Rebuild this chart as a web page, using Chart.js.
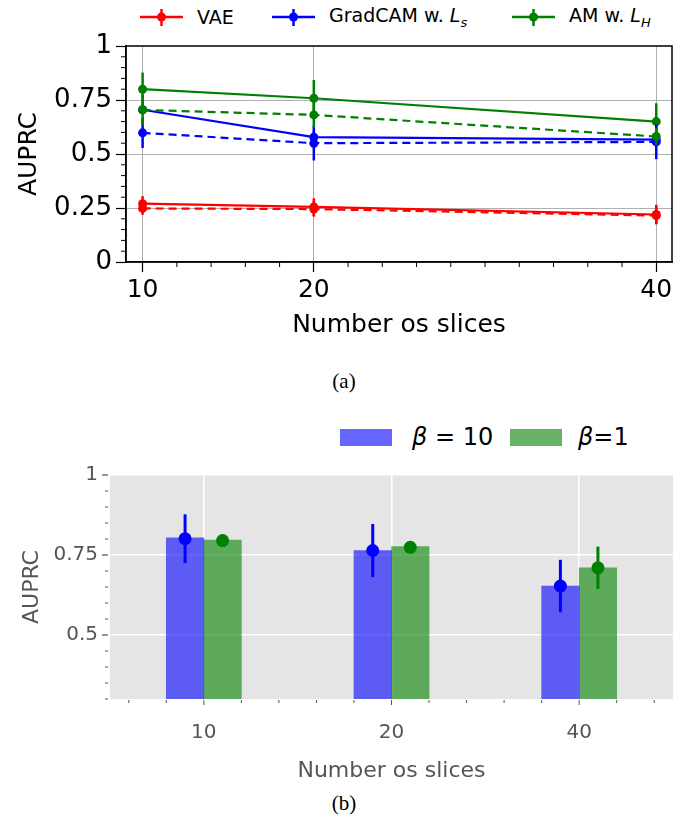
<!DOCTYPE html>
<html>
<head>
<meta charset="utf-8">
<script src="https://cdn.jsdelivr.net/npm/chart.js@4.4.0/dist/chart.umd.min.js"></script>
<style>
  body { margin: 0; width: 688px; height: 827px; background: #fff; position: relative; overflow: hidden; font-family: 'DejaVu Sans', sans-serif; }
  canvas { position: absolute; left: 0; }
  #chartA { top: 0; }
  #chartB { top: 400px; }
  .leg { position: absolute; display: flex; align-items: center; white-space: nowrap; color: #000; }
  .legA { top: 2px; height: 30px; font-size: 19px; }
  .legA span { margin-left: 14px; }
  .legB { top: 422px; height: 30px; font-size: 24px; color: #000; }
  .patch { display: inline-block; width: 52px; height: 17px; margin-right: 20px; }
  .caption { position: absolute; left: 0; width: 688px; text-align: center; font-family: 'Liberation Serif', serif; font-size: 21px; line-height: 24px; }
</style>
</head>
<body>

<div class="leg legA" style="left:140px">
  <svg width="43" height="30"><line x1="0" y1="15" x2="43" y2="15" stroke="#ff0000" stroke-width="2.5"/><line x1="21.5" y1="7" x2="21.5" y2="24" stroke="#ff0000" stroke-width="2.5"/><circle cx="21.5" cy="15" r="4.5" fill="#ff0000"/></svg>
  <span>VAE</span>
</div>
<div class="leg legA" style="left:272px">
  <svg width="43" height="30"><line x1="0" y1="15" x2="43" y2="15" stroke="#0000ff" stroke-width="2.5"/><line x1="21.5" y1="7" x2="21.5" y2="24" stroke="#0000ff" stroke-width="2.5"/><circle cx="21.5" cy="15" r="4.5" fill="#0000ff"/></svg>
  <span>GradCAM w. <i>L</i><sub style="font-size:13px"><i>s</i></sub></span>
</div>
<div class="leg legA" style="left:512px">
  <svg width="43" height="30"><line x1="0" y1="15" x2="43" y2="15" stroke="#008000" stroke-width="2.5"/><line x1="21.5" y1="7" x2="21.5" y2="24" stroke="#008000" stroke-width="2.5"/><circle cx="21.5" cy="15" r="4.5" fill="#008000"/></svg>
  <span>AM w. <i>L</i><sub style="font-size:13px"><i>H</i></sub></span>
</div>

<canvas id="chartA" width="688" height="344"></canvas>
<div class="caption" style="top:369px">(a)</div>

<div class="leg legB" style="left:340px"><span class="patch" style="background:rgba(0,0,255,0.6)"></span><span><i>β</i> = 10</span></div>
<div class="leg legB" style="left:510px"><span class="patch" style="background:rgba(0,128,0,0.6);margin-right:16px"></span><span><i>β</i>=1</span></div>

<canvas id="chartB" width="688" height="388"></canvas>
<div class="caption" style="top:791px">(b)</div>

<script>
// ---- data, panel (a) ----
const slices = [10, 20, 40];
const vaeSolid = [0.27, 0.255, 0.22];
const vaeSolidErr = [0.035, 0.04, 0.045];
const vaeDashed = [0.248, 0.245, 0.215];
const vaeDashedErr = [0.03, 0.035, 0.04];
const gradSolid = [0.705, 0.578, 0.567];
const gradSolidErr = [0.02, 0.03, 0.02];
const gradDashed = [0.598, 0.55, 0.556];
const gradDashedErr = [0.07, 0.08, 0.08];
const amSolid = [0.80, 0.758, 0.65];
const amSolidErr = [0.077, 0.085, 0.085];
const amDashed = [0.704, 0.681, 0.581];
const amDashedErr = [0.07, 0.06, 0.04];

const xTicksA = [10, 20, 40];
const xMinorA = [12, 14, 16, 18, 22, 24, 26, 28, 30, 32, 34, 36, 38];
const yTicksA = [0, 0.25, 0.5, 0.75, 1];
const yTickLabelsA = ['0', '0.25', '0.5', '0.75', '1'];
const yMinorA = [0.05, 0.1, 0.15, 0.2, 0.3, 0.35, 0.4, 0.45, 0.55, 0.6, 0.65, 0.7, 0.8, 0.85, 0.9, 0.95];

// ---- data, panel (b) ----
const sliceLabels = ['10', '20', '40'];
const beta10Bars = [0.804, 0.764, 0.653];
const beta1Bars = [0.797, 0.776, 0.710];
const beta10Mean = [0.801, 0.764, 0.653];
const beta10Err = [0.076, 0.083, 0.082];
const beta1Mean = [0.795, 0.774, 0.710];
const beta1Err = [0.012, 0.01, 0.066];

const xTicksB = [0, 1, 2];
const xMinorB = [-0.4, -0.2, 0.2, 0.4, 0.6, 0.8, 1.2, 1.4, 1.6, 1.8, 2.2, 2.4];
const yTicksB = [0.5, 0.75, 1];
const yTickLabelsB = ['0.5', '0.75', '1'];
const yMinorB = [0.3, 0.35, 0.4, 0.45, 0.55, 0.6, 0.65, 0.7, 0.8, 0.85, 0.9, 0.95];

const FONT = "'DejaVu Sans', sans-serif";
const DODGE = 0.1; // half a bar width, in slice-index units

// vertical error bars, drawn under each dataset's markers
const errorBars = {
  id: 'errorBars',
  beforeDatasetDraw(chart, args) {
    const ds = chart.data.datasets[args.index];
    if (!ds.errors) return;
    const yScale = chart.scales[args.meta.yAxisID];
    const ctx = chart.ctx;
    ctx.save();
    ctx.strokeStyle = ds.pointBackgroundColor;
    ctx.lineWidth = ds.errorWidth;
    args.meta.data.forEach((pt, i) => {
      const v = ds.data[i].y;
      ctx.beginPath();
      ctx.moveTo(pt.x, yScale.getPixelForValue(v + ds.errors[i]));
      ctx.lineTo(pt.x, yScale.getPixelForValue(v - ds.errors[i]));
      ctx.stroke();
    });
    ctx.restore();
  }
};

// extra tick marks (minor ticks, or all ticks when a gap is needed)
const tickMarks = {
  id: 'tickMarks',
  afterDraw(chart, args, opts) {
    const ctx = chart.ctx;
    ctx.save();
    (opts.sets || []).forEach(set => {
      const scale = chart.scales[set.axis];
      ctx.strokeStyle = set.color;
      ctx.lineWidth = set.width;
      set.values.forEach(v => {
        const p = scale.getPixelForValue(v);
        ctx.beginPath();
        if (scale.isHorizontal()) {
          const y0 = chart.chartArea.bottom + set.gap;
          ctx.moveTo(p, y0);
          ctx.lineTo(p, y0 + set.length);
        } else {
          const x0 = chart.chartArea.left - set.gap;
          ctx.moveTo(x0, p);
          ctx.lineTo(x0 - set.length, p);
        }
        ctx.stroke();
      });
    });
    ctx.restore();
  }
};

const frame = {
  id: 'frame',
  afterDraw(chart, args, opts) {
    if (!opts.color) return;
    const a = chart.chartArea;
    const ctx = chart.ctx;
    ctx.save();
    ctx.strokeStyle = opts.color;
    ctx.lineWidth = opts.width;
    ctx.strokeRect(a.left, a.top, a.right - a.left, a.bottom - a.top);
    ctx.restore();
  }
};

const panelBackground = {
  id: 'panelBackground',
  beforeDraw(chart, args, opts) {
    if (!opts.color) return;
    const a = chart.chartArea;
    chart.ctx.save();
    chart.ctx.fillStyle = opts.color;
    chart.ctx.fillRect(a.left, a.top, a.right - a.left, a.bottom - a.top);
    chart.ctx.restore();
  }
};

function lineSeries(values, errors, color, dashed, order) {
  return {
    data: slices.map((x, i) => ({ x: x, y: values[i] })),
    errors: errors,
    errorWidth: 2.5,
    borderColor: color,
    backgroundColor: color,
    pointBackgroundColor: color,
    pointBorderColor: color,
    pointRadius: 4.5,
    pointBorderWidth: 0,
    borderWidth: 2.2,
    borderDash: dashed ? [8, 5] : [],
    tension: 0,
    order: order
  };
}

function renderPanelA() {
  const ctx = document.getElementById('chartA').getContext('2d');
  new Chart(ctx, {
    type: 'line',
    data: {
      datasets: [
        lineSeries(vaeSolid, vaeSolidErr, '#ff0000', false, 6),
        lineSeries(gradSolid, gradSolidErr, '#0000ff', false, 5),
        lineSeries(amSolid, amSolidErr, '#008000', false, 4),
        lineSeries(vaeDashed, vaeDashedErr, '#ff0000', true, 3),
        lineSeries(gradDashed, gradDashedErr, '#0000ff', true, 2),
        lineSeries(amDashed, amDashedErr, '#008000', true, 1)
      ]
    },
    options: {
      responsive: false,
      animation: false,
      events: [],
      layout: { padding: { left: 0, top: 46, right: 16, bottom: 0 } },
      plugins: {
        legend: { display: false },
        tooltip: { enabled: false },
        frame: { color: '#000', width: 1.5 },
        tickMarks: {
          sets: [
            { axis: 'x', values: xMinorA, length: 5, gap: 0, color: '#000', width: 1 },
            { axis: 'y', values: yMinorA, length: 5, gap: 0, color: '#000', width: 1 }
          ]
        }
      },
      scales: {
        x: {
          type: 'linear',
          min: 9.03,
          max: 40.92,
          afterBuildTicks: (scale) => { scale.ticks = xTicksA.map(v => ({ value: v })); },
          afterFit: (scale) => { scale.height = 82; },
          ticks: { autoSkip: false, maxRotation: 0, padding: 3, color: '#000', font: { family: FONT, size: 25 }, callback: (v) => String(v) },
          grid: { color: '#b0b0b0', lineWidth: 1, tickColor: '#000', tickLength: 10, tickWidth: 1.2 },
          border: { display: true, color: '#000', width: 1.5 },
          title: { display: true, text: 'Number os slices', color: '#000', font: { family: FONT, size: 25 }, padding: { top: 0, bottom: 4 } }
        },
        y: {
          min: 0,
          max: 1,
          afterBuildTicks: (scale) => { scale.ticks = yTicksA.map(v => ({ value: v })); },
          afterFit: (scale) => { scale.width = 126; },
          ticks: { padding: 4, color: '#000', font: { family: FONT, size: 26 }, callback: (v, i) => yTickLabelsA[i] },
          grid: {
            color: (c) => (c.tick && (c.tick.value === 0 || c.tick.value === 1)) ? 'rgba(0,0,0,0)' : '#b0b0b0',
            lineWidth: 1, tickColor: '#000', tickLength: 10, tickWidth: 1.2
          },
          border: { display: true, color: '#000', width: 1.5 },
          title: { display: true, text: 'AUPRC', color: '#000', font: { family: FONT, size: 25 }, padding: { top: 14, bottom: 0 } }
        }
      }
    },
    plugins: [errorBars, tickMarks, frame]
  });
}

function barSeries(values, color, dodge) {
  return {
    type: 'bar',
    data: values.map((v, i) => ({ x: xTicksB[i] + dodge, y: v })),
    backgroundColor: color,
    borderWidth: 0,
    grouped: false,
    categoryPercentage: 1,
    barPercentage: 1,
    order: 2
  };
}

function pointSeries(means, errors, color, dodge) {
  return {
    type: 'scatter',
    data: means.map((m, i) => ({ x: xTicksB[i] + dodge, y: m })),
    errors: errors,
    errorWidth: 3,
    backgroundColor: color,
    pointBackgroundColor: color,
    pointBorderColor: color,
    pointBorderWidth: 0,
    pointRadius: 6.5,
    order: 1
  };
}

function renderPanelB() {
  const ctx = document.getElementById('chartB').getContext('2d');
  new Chart(ctx, {
    type: 'bar',
    data: {
      datasets: [
        barSeries(beta10Bars, 'rgba(0,0,255,0.6)', -DODGE),
        barSeries(beta1Bars, 'rgba(0,128,0,0.6)', DODGE),
        pointSeries(beta10Mean, beta10Err, '#0000ff', -DODGE),
        pointSeries(beta1Mean, beta1Err, '#008000', DODGE)
      ]
    },
    options: {
      responsive: false,
      animation: false,
      events: [],
      layout: { padding: { left: 0, top: 75, right: 15, bottom: 0 } },
      plugins: {
        legend: { display: false },
        tooltip: { enabled: false },
        panelBackground: { color: '#e5e5e5' },
        tickMarks: {
          sets: [
            { axis: 'x', values: xTicksB, length: 5, gap: 1, color: '#555', width: 1 },
            { axis: 'x', values: xMinorB, length: 3, gap: 1, color: '#555', width: 1 },
            { axis: 'y', values: yTicksB, length: 6, gap: 2, color: '#555', width: 1.2 },
            { axis: 'y', values: yMinorB, length: 3, gap: 2, color: '#555', width: 1 }
          ]
        }
      },
      scales: {
        x: {
          type: 'linear',
          position: 'bottom',
          offset: false,
          min: -0.5,
          max: 2.5,
          afterBuildTicks: (scale) => { scale.ticks = xTicksB.map(v => ({ value: v })); },
          afterFit: (scale) => { scale.height = 89; },
          ticks: { autoSkip: false, maxRotation: 0, padding: 14, color: '#555', font: { family: FONT, size: 20 }, callback: (v, i) => sliceLabels[i] },
          grid: { offset: false, color: '#ffffff', lineWidth: 1.5, tickColor: 'rgba(0,0,0,0)', tickLength: 8 },
          border: { display: false },
          title: { display: true, text: 'Number os slices', color: '#555', font: { family: FONT, size: 22 }, padding: { top: 0, bottom: 4 } }
        },
        y: {
          min: 0.3,
          max: 1,
          afterBuildTicks: (scale) => { scale.ticks = yTicksB.map(v => ({ value: v })); },
          afterFit: (scale) => { scale.width = 110; },
          ticks: { padding: 4, color: '#555', font: { family: FONT, size: 20 }, callback: (v, i) => yTickLabelsB[i] },
          grid: { color: '#ffffff', lineWidth: 1.5, tickColor: 'rgba(0,0,0,0)', tickLength: 8 },
          border: { display: false },
          title: { display: true, text: 'AUPRC', color: '#555', font: { family: FONT, size: 22 }, padding: { top: 19, bottom: 0 } }
        }
      }
    },
    plugins: [errorBars, tickMarks, panelBackground]
  });
}

document.addEventListener('DOMContentLoaded', () => {
  renderPanelA();
  renderPanelB();
});
</script>
</body>
</html>
